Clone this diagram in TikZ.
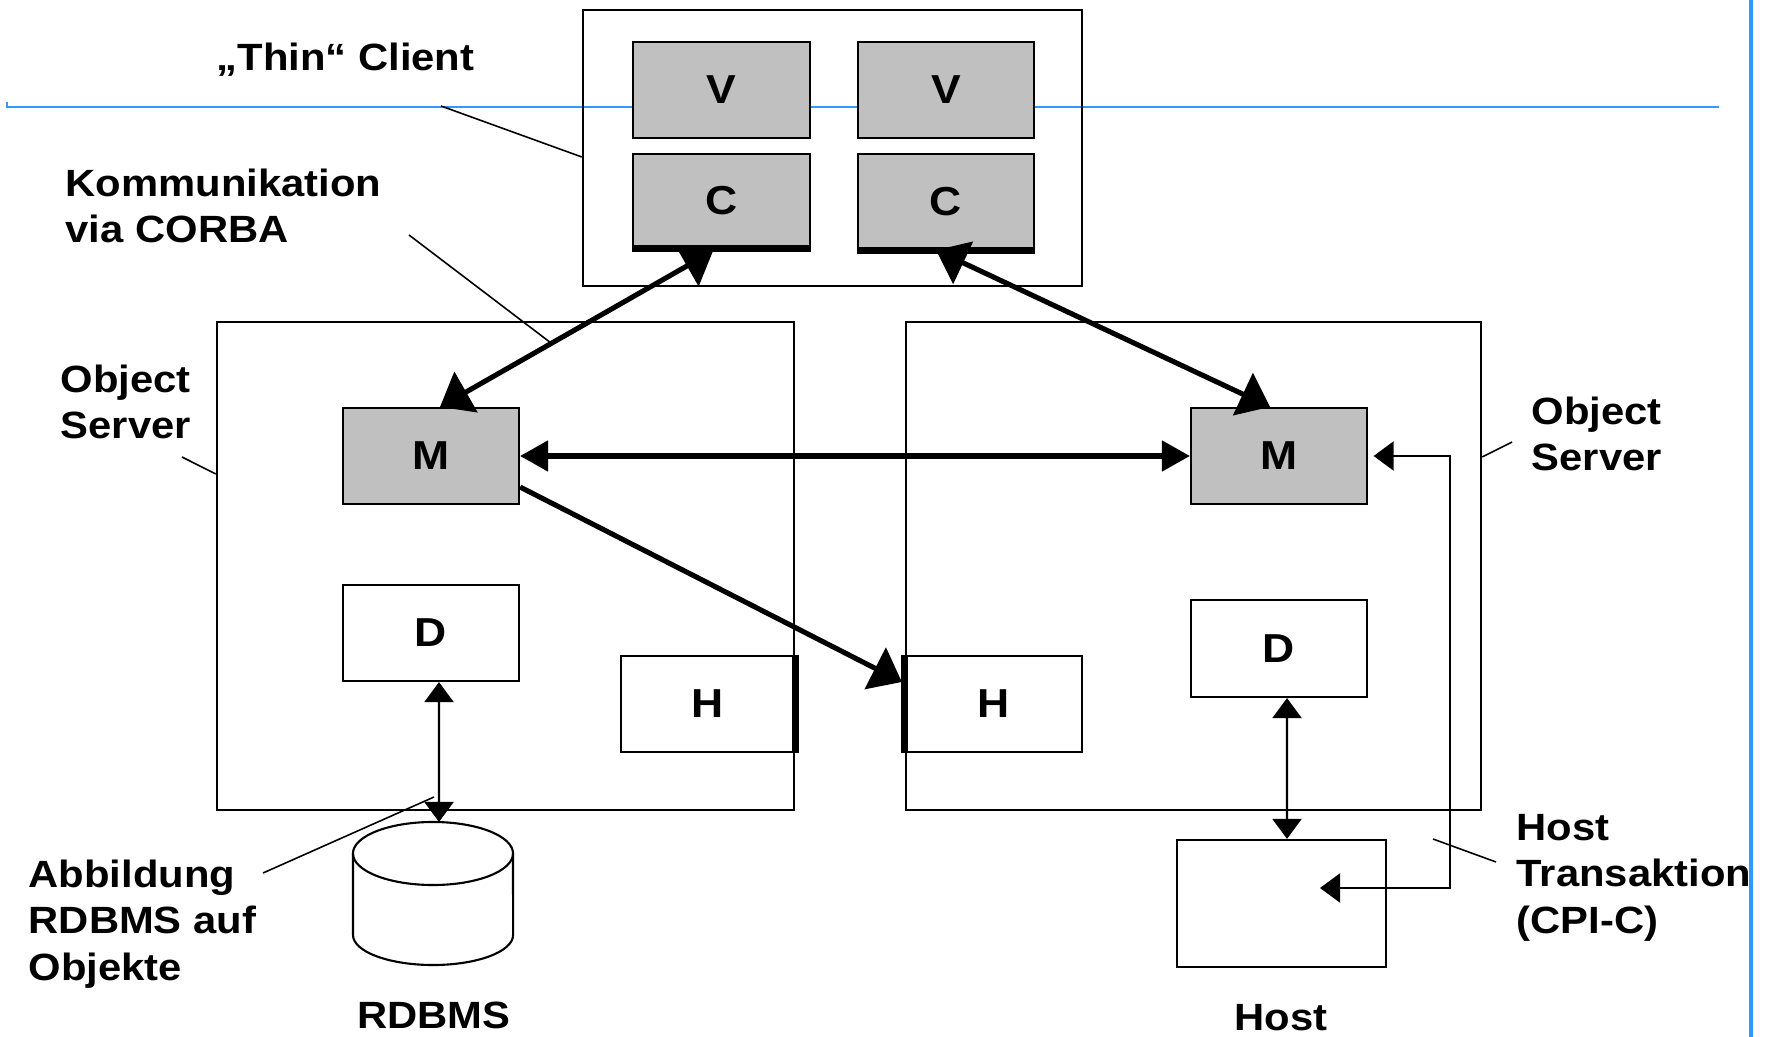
\documentclass[tikz,border=0pt]{standalone}
\usepackage{fontspec}
\setmainfont{Liberation Sans}[FakeStretch=1.1]
\usetikzlibrary{arrows.meta,positioning}
\definecolor{boxgray}{RGB}{192,192,192}
\definecolor{ruleblue}{RGB}{51,153,255}

\begin{document}
\begin{tikzpicture}[x=0.01cm, y=-0.01cm,
  box/.style={draw, line width=0.6pt, minimum width=1.76cm, minimum height=0.96cm, inner sep=0pt, font=\fontsize{11.5}{13}\selectfont\bfseries},
  graybox/.style={box, fill=boxgray},
  frame/.style={draw, line width=0.6pt, inner sep=0pt},
  lbl/.style={align=left, inner sep=0pt, anchor=base west, font=\fontsize{10.8}{13.1}\selectfont\bfseries},
  leader/.style={line width=0.45pt},
  thickarrow/.style={line width=1.45pt},
  thinarrow/.style={line width=0.6pt},
  BigTri/.tip={Triangle[length=0.30cm,width=0.46cm]},
  MidTri/.tip={Triangle[length=0.28cm,width=0.30cm]},
  SmallTri/.tip={Triangle[length=0.20cm,width=0.29cm]}]

  \useasboundingbox (0,0) rectangle (1773,1037);

  % page rulers
  \draw[ruleblue, line width=0.6pt] (7,102) -- (7,107) -- (1719,107);
  \draw[ruleblue, line width=1.4pt] (1751,0) -- (1751,1037);

  % thin client
  \node[frame, minimum width=4.99cm, minimum height=2.76cm] (client) at (832.5,148) {};
  \node[graybox, minimum width=1.77cm] (v1) at (721.5,90) {V};
  \node[graybox] (v2) at (946,90) {V};
  \node[graybox, minimum width=1.77cm, minimum height=0.93cm] (c1) at (721.5,200.5) {C};
  \node[graybox, minimum height=0.95cm] (c2) at (946,201.5) {C};
  \draw[line width=2pt] (c1.south west) -- (c1.south east);
  \draw[line width=2pt] (c2.south west) -- (c2.south east);

  % object servers
  \node[frame, minimum width=5.77cm, minimum height=4.88cm] (lserver) at (505.5,566) {};
  \node[frame, minimum width=5.75cm, minimum height=4.88cm] (rserver) at (1193.5,566) {};

  \node[graybox] (m1) at (431,456) {M};
  \node[graybox] (m2) at (1279,456) {M};
  \node[box] (d1) at (431,633) {D};
  \node[box, minimum height=0.97cm] (d2) at (1279,648.5) {D};
  \node[box, minimum width=1.73cm] (h1) at (707.5,704) {H};
  \node[box] (h2) at (994,704) {H};
  \draw[line width=2pt] (h1.north east) -- (h1.south east);
  \draw[line width=2pt] (h2.north west) -- (h2.south west);

  % host and database
  \node[frame, minimum width=2.09cm, minimum height=1.27cm] (host) at (1281.5,903.5) {};
  \draw[line width=0.6pt] (353,853.5) -- (353,935) arc[start angle=180, end angle=360, x radius=0.8cm, y radius=0.3cm] -- (513,853.5);
  \draw[line width=0.6pt] (433,853.5) ellipse [x radius=0.8cm, y radius=0.315cm];
  \coordinate (dbtop) at (439,822);
  \coordinate (hostin) at (1320,888);

  % CORBA links
  \draw[thickarrow, BigTri-BigTri] ([xshift=0.09cm]m1.north) -- ([xshift=-0.085cm,yshift=-0.03cm]c1.south);
  \draw[thickarrow, BigTri-BigTri] ([xshift=-0.10cm]c2.south) -- ([xshift=-0.09cm]m2.north);
  \draw[thickarrow, MidTri-MidTri] (m1.east) -- (m2.west);
  \draw[thickarrow, -BigTri] ([yshift=-0.31cm]m1.east) -- ([xshift=-0.03cm,yshift=0.22cm]h2.west);

  % data access
  \draw[thinarrow, SmallTri-SmallTri] ([xshift=0.08cm]d1.south) -- (dbtop);
  \draw[thinarrow, SmallTri-SmallTri] ([xshift=0.08cm]d2.south) -- ([xshift=0.055cm]host.north);
  \draw[thinarrow, SmallTri-SmallTri] ([xshift=0.055cm]m2.east) -- ++(76,0) |- (hostin);

  % labels (anchored at the baseline of the last line)
  \node[lbl] (thinlbl) at (216,71) {„Thin“ Client};
  \node[lbl] (corbalbl) at (65,243) {Kommunikation\\via CORBA};
  \node[lbl] (losl) at (60,439) {Object\\Server};
  \node[lbl] (rosl) at (1531,471) {Object\\Server};
  \node[lbl] (hostlbl) at (1516,933) {Host\\Transaktion\\(CPI-C)};
  \node[lbl] (abblbl) at (28,980) {Abbildung\\RDBMS auf\\Objekte};
  \node[lbl, anchor=base] (dblbl) at (434,1028) {RDBMS};
  \node[lbl, anchor=base] (hostname) at (1281,1030) {Host};

  % leader lines
  \coordinate (thinfoot) at (441,106);
  \coordinate (corbafoot) at (409,235);
  \coordinate (corbatip) at (551,343);
  \coordinate (losfoot) at (182,457);
  \coordinate (rosfoot) at (1512,442);
  \coordinate (hostfoot) at (1496,862);
  \coordinate (hosttip) at (1433,839);
  \coordinate (abbfoot) at (263,873);
  \coordinate (abbtip) at (434,797);
  \draw[leader] (thinfoot) -- ([yshift=-0.09cm]client.west);
  \draw[leader] (corbafoot) -- (corbatip);
  \draw[leader] (losfoot) -- ([yshift=0.92cm]lserver.west);
  \draw[leader] (rosfoot) -- ([yshift=1.09cm]rserver.east);
  \draw[leader] (hostfoot) -- (hosttip);
  \draw[leader] (abbfoot) -- (abbtip);

\end{tikzpicture}
\end{document}
